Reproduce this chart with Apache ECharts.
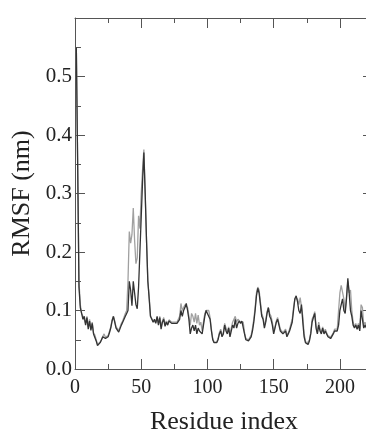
<!DOCTYPE html>
<html>
<head>
<meta charset="utf-8">
<script src="https://cdn.jsdelivr.net/npm/echarts@6/dist/echarts.min.js"></script>
<style>html,body{margin:0;padding:0;background:#fff;}#c{width:366px;height:430px;}</style>
</head>
<body>
<div id="c"></div>
<script>
const residues = [];
for (let i = 1; i <= 221; i++) residues.push(i);
// dark trace
const rmsfDark = [
0.55,0.35,0.14,0.105,0.095,0.085,0.09,0.075,0.088,0.068,
0.082,0.066,0.078,0.06,0.058,0.048,0.04,0.042,0.045,0.05,
0.055,0.058,0.052,0.05,0.055,0.062,0.07,0.082,0.09,0.08,
0.07,0.068,0.063,0.062,0.075,0.08,0.078,0.09,0.095,0.1,
0.15,0.135,0.108,0.15,0.13,0.11,0.103,0.14,0.2,0.26,
0.32,0.37,0.3,0.22,0.15,0.12,0.09,0.085,0.08,0.085,
0.078,0.09,0.075,0.088,0.068,0.08,0.085,0.073,0.08,0.075,
0.082,0.08,0.078,0.08,0.078,0.076,0.078,0.078,0.085,0.1,
0.09,0.1,0.105,0.112,0.1,0.085,0.06,0.07,0.075,0.065,
0.075,0.06,0.07,0.065,0.068,0.06,0.075,0.09,0.1,0.095,
0.098,0.085,0.065,0.05,0.045,0.043,0.045,0.05,0.06,0.065,
0.055,0.06,0.075,0.065,0.06,0.07,0.055,0.065,0.075,0.07,
0.085,0.07,0.078,0.082,0.078,0.082,0.08,0.06,0.05,0.048,
0.048,0.05,0.055,0.065,0.08,0.1,0.125,0.138,0.13,0.11,
0.09,0.085,0.07,0.08,0.095,0.105,0.09,0.085,0.075,0.06,
0.07,0.08,0.085,0.075,0.065,0.065,0.06,0.058,0.065,0.055,
0.06,0.065,0.065,0.08,0.1,0.12,0.125,0.115,0.1,0.095,
0.11,0.08,0.055,0.045,0.042,0.042,0.048,0.06,0.08,0.088,
0.095,0.07,0.06,0.075,0.065,0.06,0.07,0.06,0.065,0.06,
0.055,0.058,0.052,0.055,0.06,0.065,0.068,0.065,0.075,0.1,
0.11,0.12,0.1,0.095,0.12,0.155,0.13,0.1,0.09,0.075,
0.07,0.075,0.068,0.075,0.065,0.1,0.1,0.07,0.075,0.07,
0.075];
// light trace
const rmsfLight = [
0.55,0.36,0.15,0.11,0.095,0.09,0.088,0.078,0.09,0.072,
0.085,0.07,0.08,0.062,0.058,0.05,0.042,0.043,0.046,0.05,
0.056,0.06,0.054,0.052,0.057,0.064,0.072,0.084,0.09,0.082,
0.072,0.07,0.066,0.065,0.078,0.082,0.08,0.095,0.1,0.15,
0.235,0.215,0.23,0.275,0.22,0.18,0.19,0.262,0.24,0.3,
0.34,0.375,0.3,0.22,0.15,0.125,0.09,0.087,0.082,0.085,
0.08,0.088,0.078,0.09,0.072,0.082,0.088,0.076,0.082,0.078,
0.084,0.082,0.08,0.083,0.08,0.078,0.08,0.08,0.09,0.112,
0.1,0.105,0.11,0.108,0.105,0.09,0.075,0.095,0.09,0.08,
0.095,0.078,0.092,0.075,0.08,0.065,0.08,0.095,0.1,0.098,
0.1,0.088,0.068,0.052,0.046,0.044,0.046,0.052,0.062,0.068,
0.058,0.062,0.078,0.07,0.062,0.072,0.06,0.07,0.08,0.085,
0.09,0.08,0.085,0.085,0.08,0.082,0.08,0.062,0.052,0.05,
0.05,0.052,0.058,0.07,0.085,0.105,0.13,0.14,0.135,0.115,
0.095,0.088,0.075,0.082,0.098,0.105,0.095,0.09,0.08,0.065,
0.072,0.082,0.088,0.078,0.068,0.07,0.062,0.06,0.068,0.058,
0.062,0.068,0.07,0.085,0.105,0.12,0.12,0.12,0.11,0.122,
0.12,0.09,0.06,0.048,0.043,0.044,0.05,0.062,0.085,0.09,
0.098,0.075,0.062,0.08,0.068,0.062,0.072,0.062,0.068,0.062,
0.057,0.06,0.054,0.056,0.062,0.068,0.07,0.068,0.1,0.13,
0.143,0.14,0.12,0.1,0.125,0.15,0.13,0.135,0.1,0.08,
0.072,0.078,0.07,0.078,0.068,0.11,0.105,0.075,0.08,0.072,
0.078];
const xTicks = [0, 50, 100, 150, 200];
const yTicks = ['0.0','0.1','0.2','0.3','0.4','0.5'];

const font = 'Liberation Serif';
const axisCol = '#555';
function xAx(pos, labels) {
  return {
    type: 'value', position: pos, min: 0, max: 225, interval: 50,
    axisLine: { show: true, onZero: false, lineStyle: { color: axisCol, width: 1 } },
    axisTick: { show: true, inside: true, length: 10, lineStyle: { color: axisCol } },
    minorTick: { show: true, splitNumber: 2, length: 5, lineStyle: { color: axisCol } },
    splitLine: { show: false }, minorSplitLine: { show: false },
    axisLabel: { show: labels, margin: 9, fontFamily: font, fontSize: 20, color: '#222', showMaxLabel: false,
      formatter: v => xTicks.indexOf(v) >= 0 ? String(v) : '' },
    name: labels ? 'Residue index' : '', nameLocation: 'middle', nameGap: 40,
    nameTextStyle: { fontFamily: font, fontSize: 26, color: '#222' }
  };
}
function yAx(pos, labels) {
  return {
    type: 'value', position: pos, min: 0, max: 0.6, interval: 0.1,
    axisLine: { show: true, onZero: false, lineStyle: { color: axisCol, width: 1 } },
    axisTick: { show: true, inside: true, length: 10, lineStyle: { color: axisCol } },
    minorTick: { show: true, splitNumber: 2, length: 6, lineStyle: { color: axisCol } },
    splitLine: { show: false }, minorSplitLine: { show: false },
    axisLabel: { show: labels, margin: 3, fontFamily: font, fontSize: 21, color: '#222', showMaxLabel: false,
      formatter: v => { const s = v.toFixed(1); return yTicks.indexOf(s) >= 0 ? s : ''; } },
    name: labels ? 'RMSF (nm)' : '', nameLocation: 'middle', nameGap: 40,
    nameTextStyle: { fontFamily: font, fontSize: 26, color: '#222' }
  };
}
const chart = echarts.init(document.getElementById('c'), null, { renderer: 'canvas' });
chart.setOption({
  animation: false,
  backgroundColor: '#fff',
  grid: { left: 75, top: 18, width: 298, height: 351, containLabel: false, outerBoundsMode: 'none' },
  xAxis: [xAx('bottom', true), xAx('top', false)],
  yAxis: [yAx('left', true), yAx('right', false)],
  series: [
    { type: 'line', data: residues.map((r, i) => [r, rmsfLight[i]]), showSymbol: false, symbol: 'none',
      lineStyle: { color: '#a0a0a0', width: 1.3 }, xAxisIndex: 0, yAxisIndex: 0 },
    { type: 'line', data: residues.map((r, i) => [r, rmsfDark[i]]), showSymbol: false, symbol: 'none',
      lineStyle: { color: '#333', width: 1.3 }, xAxisIndex: 0, yAxisIndex: 0 }
  ]
});
</script>
</body>
</html>
